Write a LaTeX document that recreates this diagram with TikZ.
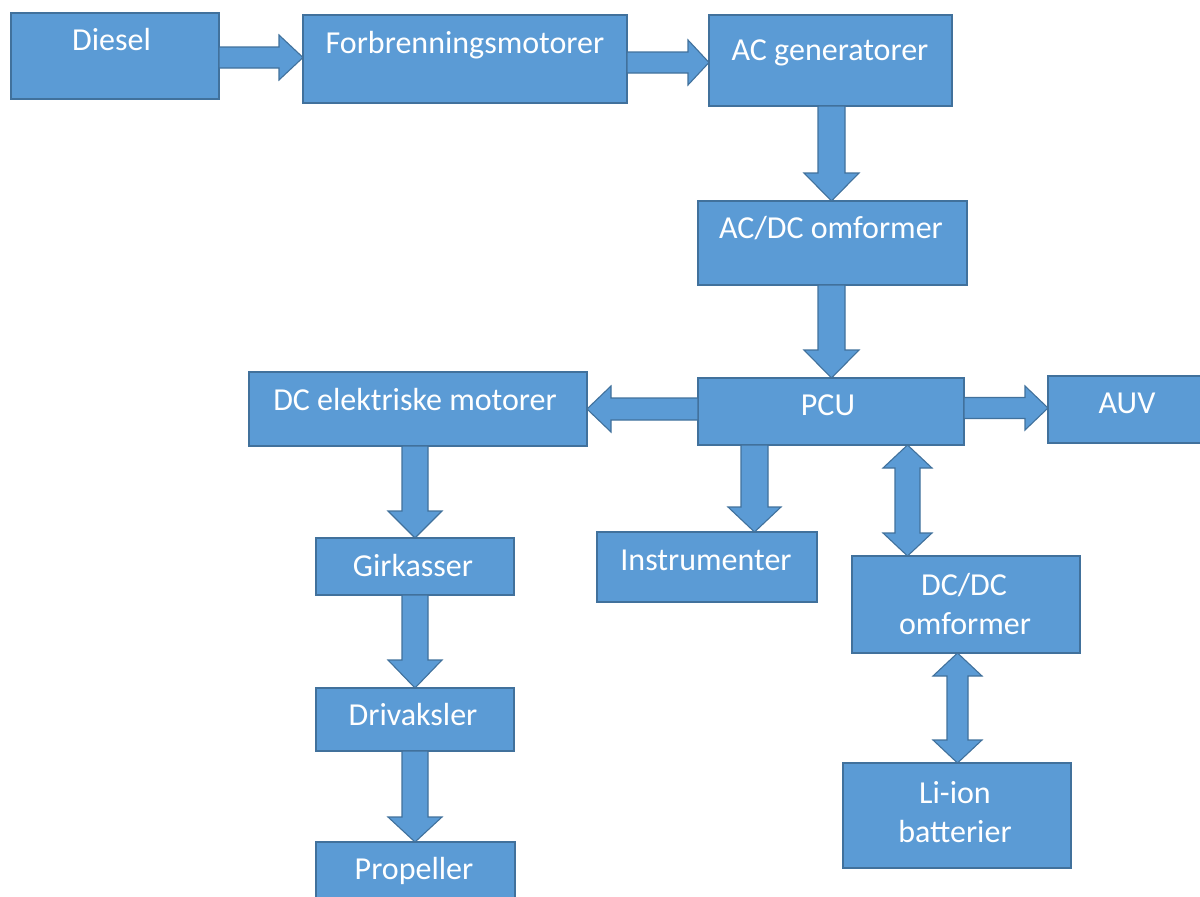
\documentclass[tikz,border=0pt]{standalone}
\usepackage{fontspec}
\setmainfont{Carlito}
\usetikzlibrary{calc}
\definecolor{boxfill}{HTML}{5B9BD5}
\definecolor{boxline}{HTML}{41719C}
\tikzset{
  blk/.style={draw=boxline, fill=boxfill, line width=1.3pt, inner sep=0pt, outer sep=0pt},
  lbl/.style={text=white, font=\fontsize{32}{38}\selectfont, anchor=base, inner sep=0pt},
  barrow/.style={draw=boxline, fill=boxfill, line width=1.1pt, line join=miter}
}
% right-pointing block arrow: from, to, y, shaft half, head half, head length
\newcommand{\rarr}[6]{\draw[barrow] let \p1=(#1.east), \p2=(#2.west) in
  (\x1,{-(#3-#4)*1pt}) -- ({\x2-#6pt},{-(#3-#4)*1pt}) -- ({\x2-#6pt},{-(#3-#5)*1pt}) -- (\x2,{-#3pt})
  -- ({\x2-#6pt},{-(#3+#5)*1pt}) -- ({\x2-#6pt},{-(#3+#4)*1pt}) -- (\x1,{-(#3+#4)*1pt}) -- cycle;}
% left-pointing block arrow
\newcommand{\larr}[6]{\draw[barrow] let \p1=(#1.west), \p2=(#2.east) in
  (\x1,{-(#3-#4)*1pt}) -- ({\x2+#6pt},{-(#3-#4)*1pt}) -- ({\x2+#6pt},{-(#3-#5)*1pt}) -- (\x2,{-#3pt})
  -- ({\x2+#6pt},{-(#3+#5)*1pt}) -- ({\x2+#6pt},{-(#3+#4)*1pt}) -- (\x1,{-(#3+#4)*1pt}) -- cycle;}
% down-pointing block arrow: from, to, x, shaft half, head half, head length
\newcommand{\darr}[6]{\draw[barrow] let \p1=(#1.south), \p2=(#2.north) in
  ({(#3-#4)*1pt},\y1) -- ({(#3+#4)*1pt},\y1) -- ({(#3+#4)*1pt},{\y2+#6pt}) -- ({(#3+#5)*1pt},{\y2+#6pt})
  -- (#3pt,\y2) -- ({(#3-#5)*1pt},{\y2+#6pt}) -- ({(#3-#4)*1pt},{\y2+#6pt}) -- cycle;}
% vertical double block arrow
\newcommand{\dbarr}[6]{\draw[barrow] let \p1=(#1.south), \p2=(#2.north) in
  (#3pt,\y1) -- ({(#3+#5)*1pt},{\y1-#6pt}) -- ({(#3+#4)*1pt},{\y1-#6pt}) -- ({(#3+#4)*1pt},{\y2+#6pt})
  -- ({(#3+#5)*1pt},{\y2+#6pt}) -- (#3pt,\y2) -- ({(#3-#5)*1pt},{\y2+#6pt}) -- ({(#3-#4)*1pt},{\y2+#6pt})
  -- ({(#3-#4)*1pt},{\y1-#6pt}) -- ({(#3-#5)*1pt},{\y1-#6pt}) -- cycle;}
\begin{document}
\begin{tikzpicture}[x=1pt,y=-1pt]
\useasboundingbox (0,0) rectangle (1200,897);
\clip (0,0) rectangle (1200,897);
% boxes
\node[blk, minimum width=208pt, minimum height=86pt] (diesel) at (115,56) {};
\node[blk, minimum width=324pt, minimum height=88pt] (forb) at (465,59) {};
\node[blk, minimum width=243pt, minimum height=91pt] (acgen) at (830.5,60.5) {};
\node[blk, minimum width=269pt, minimum height=84pt] (acdc) at (832.5,243) {};
\node[blk, minimum width=266pt, minimum height=67pt] (pcu) at (831,411.5) {};
\node[blk, minimum width=162pt, minimum height=67pt] (auv) at (1129,409.5) {};
\node[blk, minimum width=338pt, minimum height=74pt] (dcm) at (418,409) {};
\node[blk, minimum width=220pt, minimum height=70pt] (instr) at (707,567) {};
\node[blk, minimum width=228pt, minimum height=97pt] (dcdc) at (966,604.5) {};
\node[blk, minimum width=228pt, minimum height=105pt] (li) at (957,815.5) {};
\node[blk, minimum width=198pt, minimum height=57pt] (girk) at (415,566.5) {};
\node[blk, minimum width=198pt, minimum height=63pt] (driv) at (415,719.5) {};
\node[blk, minimum width=199pt, minimum height=68pt] (prop) at (415.5,876) {};
% arrows
\rarr{diesel}{forb}{57.5}{10.5}{22.5}{24}
\rarr{forb}{acgen}{62.5}{10.5}{22.5}{21}
\darr{acgen}{acdc}{831.5}{13.5}{27.5}{28}
\darr{acdc}{pcu}{831.5}{13.5}{27.5}{28}
\larr{pcu}{dcm}{409}{11}{23}{24}
\rarr{pcu}{auv}{408}{10.5}{22}{23}
\darr{pcu}{instr}{754.5}{13.5}{26.5}{25}
\dbarr{pcu}{dcdc}{907.5}{12.5}{24.5}{23}
\dbarr{dcdc}{li}{957.5}{10.5}{24.5}{23}
\darr{dcm}{girk}{415}{13}{27}{27}
\darr{girk}{driv}{415}{13}{27}{28}
\darr{driv}{prop}{415}{13}{27}{25}
% labels
\node[lbl] (t-diesel) at (111.5,50) {Diesel};
\node[lbl] (t-forb) at (465,53) {Forbrenningsmotorer};
\node[lbl] (t-acgen) at (830,60) {AC generatorer};
\node[lbl] (t-acdc) at (831,238) {AC/DC omformer};
\node[lbl] (t-pcu) at (828,415) {PCU};
\node[lbl] (t-auv) at (1127,413) {AUV};
\node[lbl] (t-dcm) at (415,410) {DC elektriske motorer};
\node[lbl] (t-instr) at (706,570) {Instrumenter};
\node[lbl] (t-dcdc1) at (964,595) {DC/DC};
\node[lbl] (t-dcdc2) at (965,634) {omformer};
\node[lbl] (t-li1) at (955,803) {Li-ion};
\node[lbl] (t-li2) at (955,842) {batterier};
\node[lbl] (t-girk) at (413,576) {Girkasser};
\node[lbl] (t-driv) at (413,725) {Drivaksler};
\node[lbl] (t-prop) at (414,879) {Propeller};
\end{tikzpicture}
\end{document}
